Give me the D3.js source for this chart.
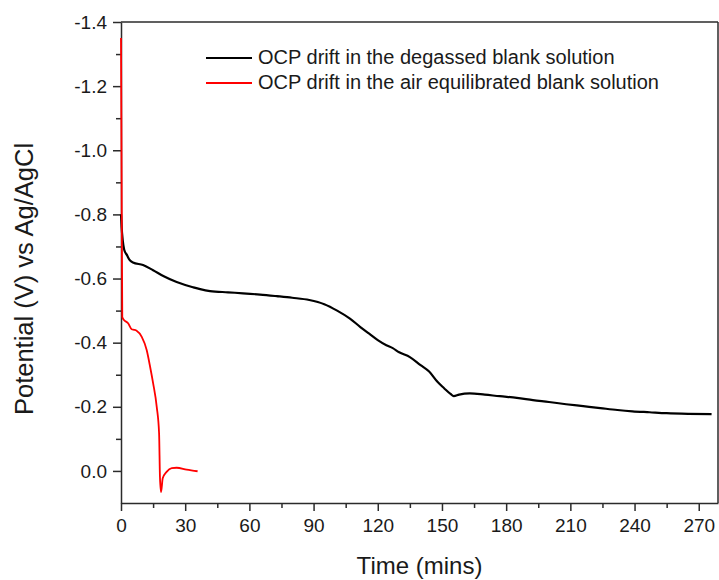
<!DOCTYPE html>
<html>
<head>
<meta charset="utf-8">
<script src="https://cdn.jsdelivr.net/npm/d3@7"></script>
<style>
  html, body { margin: 0; padding: 0; background: #ffffff; }
  svg { display: block; font-family: "Liberation Sans", Arial, sans-serif; }
</style>
</head>
<body>
<svg id="chart" width="719" height="580"></svg>
<script>
// Degassed blank solution: time (mins) and potential (V vs Ag/AgCl)
const degassedTime = [0, 0.3, 0.8, 1.5, 2.8, 4, 5.6, 10.3, 15, 20, 26, 30, 33.6, 37, 41.6, 50, 57, 65, 72.8, 80, 88, 95, 101, 107, 112, 116, 120, 124, 127, 130, 135, 140, 144, 148, 151, 154, 155.5, 158, 163, 170, 177, 185, 192.5, 200, 208, 216, 224, 232, 239, 247, 255, 265, 276];
const degassedPotential = [-0.80, -0.76, -0.72, -0.69, -0.673, -0.658, -0.65, -0.642, -0.626, -0.607, -0.589, -0.58, -0.573, -0.567, -0.561, -0.557, -0.554, -0.55, -0.545, -0.54, -0.533, -0.52, -0.50, -0.475, -0.448, -0.428, -0.408, -0.392, -0.383, -0.37, -0.355, -0.33, -0.31, -0.277, -0.258, -0.24, -0.233, -0.238, -0.242, -0.238, -0.233, -0.228, -0.221, -0.215, -0.208, -0.202, -0.196, -0.19, -0.186, -0.183, -0.18, -0.178, -0.177];

// Air equilibrated blank solution
const airTime = [0, 0.3, 0.6, 1.1, 3.4, 5, 6.2, 7.3, 9.7, 12, 13.6, 15, 16.7, 17.8, 18.2, 18.7, 19.5, 21.3, 23.7, 26, 30.7, 35.8];
const airPotential = [-1.35, -0.9, -0.48, -0.473, -0.46, -0.442, -0.44, -0.437, -0.418, -0.377, -0.325, -0.274, -0.2, -0.117, 0.018, 0.066, 0.023, 0.003, -0.009, -0.01, -0.004, 0.001];

const seriesNames = ["OCP drift in the degassed blank solution", "OCP drift in the air equilibrated blank solution"];
const seriesColors = ["#000000", "#ff0000"];

const xTicks = [0, 30, 60, 90, 120, 150, 180, 210, 240, 270];
const yTicks = [-1.4, -1.2, -1.0, -0.8, -0.6, -0.4, -0.2, 0.0];
const xDomain = [0, 279];
const yDomain = [-1.4, 0.1];

const svg = d3.select("#chart");
const margin = { left: 121, right: 1, top: 22, bottom: 77 };
const W = 719, H = 580;

const x = d3.scaleLinear().domain(xDomain).range([margin.left, W - margin.right]);
const y = d3.scaleLinear().domain(yDomain).range([margin.top, H - margin.bottom]);

const axisColor = "#2b2b2b";

// frame on top and right
svg.append("line")
  .attr("x1", x(xDomain[0])).attr("x2", x(xDomain[1]))
  .attr("y1", y(yDomain[0])).attr("y2", y(yDomain[0]))
  .attr("stroke", axisColor).attr("stroke-width", 1.5);
svg.append("line")
  .attr("x1", x(xDomain[1])).attr("x2", x(xDomain[1]))
  .attr("y1", y(yDomain[0])).attr("y2", y(yDomain[1]))
  .attr("stroke", axisColor).attr("stroke-width", 1.5);

// minor ticks
const xMinor = d3.range(15, 279, 30);
const yMinor = d3.range(-1.3, 0.1, 0.2).map(v => +v.toFixed(1));

svg.append("g")
  .attr("transform", `translate(0,${y(yDomain[1])})`)
  .call(d3.axisBottom(x).tickValues(xTicks).tickFormat(d3.format("d")).tickSizeInner(8).tickSizeOuter(0).tickPadding(8));
svg.append("g")
  .attr("transform", `translate(0,${y(yDomain[1])})`)
  .call(d3.axisBottom(x).tickValues(xMinor).tickFormat("").tickSizeInner(5).tickSizeOuter(0))
  .call(g => g.select(".domain").remove());

const yAxis = svg.append("g")
  .attr("transform", `translate(${x(xDomain[0])},0)`)
  .call(d3.axisLeft(y).tickValues(yTicks).tickFormat(d3.format(".1f")).tickSizeInner(8).tickSizeOuter(0).tickPadding(6));
svg.append("g")
  .attr("transform", `translate(${x(xDomain[0])},0)`)
  .call(d3.axisLeft(y).tickValues(yMinor).tickFormat("").tickSizeInner(5).tickSizeOuter(0))
  .call(g => g.select(".domain").remove());

svg.selectAll(".domain, .tick line").attr("stroke", axisColor).attr("stroke-width", 1.5);
svg.selectAll(".tick text")
  .attr("fill", "#1a1a1a")
  .style("font-size", "19px")
  .style("font-family", "'Liberation Sans', Arial, sans-serif");
yAxis.selectAll(".tick text").text(d => d3.format(".1f")(d).replace("−", "-"));

// axis titles
svg.append("text")
  .attr("x", (x(xDomain[0]) + x(xDomain[1])) / 2)
  .attr("y", 574)
  .attr("text-anchor", "middle")
  .attr("fill", "#1a1a1a")
  .style("font-size", "24px")
  .text("Time (mins)");
svg.append("text")
  .attr("transform", `translate(33,279) rotate(-90)`)
  .attr("text-anchor", "middle")
  .attr("fill", "#1a1a1a")
  .style("font-size", "25.5px")
  .text("Potential (V) vs Ag/AgCl");

// data lines
const line = d3.line().x(d => x(d[0])).y(d => y(d[1])).curve(d3.curveMonotoneX);
const degassed = degassedTime.map((t, i) => [t, degassedPotential[i]]);
const air = airTime.map((t, i) => [t, airPotential[i]]);

svg.append("path").datum(degassed)
  .attr("d", line).attr("fill", "none")
  .attr("stroke", seriesColors[0]).attr("stroke-width", 2.2).attr("stroke-linejoin", "round");
svg.append("path").datum(air)
  .attr("d", line).attr("fill", "none")
  .attr("stroke", seriesColors[1]).attr("stroke-width", 1.8).attr("stroke-linejoin", "round");

// legend
const legend = svg.append("g");
seriesNames.forEach((name, i) => {
  const ly = 58 + i * 25;
  legend.append("line")
    .attr("x1", 206).attr("x2", 252).attr("y1", ly).attr("y2", ly)
    .attr("stroke", seriesColors[i]).attr("stroke-width", 1.8);
  legend.append("text")
    .attr("x", 258).attr("y", ly + 6)
    .attr("fill", "#1a1a1a")
    .style("font-size", "20px")
    .text(name);
});
</script>
</body>
</html>
